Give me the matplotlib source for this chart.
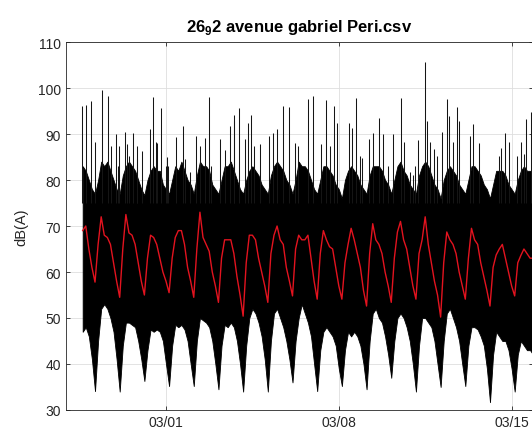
import matplotlib
matplotlib.use('Agg')
import matplotlib.pyplot as plt
import matplotlib.dates as mdates
import pandas as pd

plt.rcParams['font.family'] = ['Liberation Sans', 'DejaVu Sans']
plt.rcParams['mathtext.fontset'] = 'custom'
plt.rcParams['mathtext.rm'] = 'Liberation Sans'
plt.rcParams['mathtext.bf'] = 'Liberation Sans:bold'

START = '2015-02-25 15:00'

# 3-hourly samples (00h 03h 06h 09h 12h 15h 18h 21h), one row per day
hourly_mean = [
    69, 70, 65,                                  # 02/25 (from 15h)
    61, 57.8, 66, 72, 68, 67.5, 66, 62,          # 02/26
    58, 54.5, 65, 72.5, 68.5, 68, 66, 62,        # 02/27
    58, 55, 63, 68, 67.5, 66, 63, 60,            # 02/28
    58, 55.5, 63, 67.5, 69, 69, 66, 61,          # 03/01
    58, 54.5, 65, 73, 67.5, 66, 64.5, 60,        # 03/02
    57, 53.4, 63, 67, 67, 67, 64, 59,            # 03/03
    55, 50.4, 62, 68, 68, 67, 63, 60,            # 03/04
    57, 53.4, 64, 68, 70, 67, 66, 61,            # 03/05
    58, 54.8, 65, 68, 67, 67, 68, 63,            # 03/06
    58, 54.1, 64, 69, 67, 65.5, 65, 61,          # 03/07
    57, 54.1, 62, 66, 69.5, 67, 64, 61,          # 03/08
    56, 52.6, 64, 70.5, 67, 66, 64, 60,          # 03/09
    57, 53.4, 63, 68.7, 71, 67, 65, 61,          # 03/10
    57, 54.1, 64, 67, 72, 66, 62, 58,            # 03/11
    55, 50.2, 62, 68.7, 67, 66, 64, 60,          # 03/12
    57, 54.1, 63, 69.5, 67, 66, 62, 59,          # 03/13
    56, 52.6, 61, 63.7, 65, 66, 63, 60,          # 03/14
    57, 54.8, 62, 63.6, 65, 64, 63, 63,          # 03/15
]

# top of the dense black band
band_high = [
    83, 82, 80,
    78, 77, 80, 84, 83, 84, 82, 80,
    78, 77, 81, 83, 84, 83, 82, 80,
    78, 76.7, 80, 82, 83, 82, 82, 79,
    78, 77, 80, 83, 82, 84, 82, 80,
    79, 77, 81, 84, 83, 83, 82, 79,
    78, 77, 80, 83, 83, 84, 82, 80,
    78, 77, 80, 82, 83, 82, 81, 79,
    78, 77, 81, 83, 84, 83, 82, 80,
    79, 77, 80, 84, 83, 83, 82, 80,
    78, 77, 80, 83, 83, 82, 81, 79,
    78, 76, 80, 82, 83, 82, 81, 79,
    78, 77, 81, 83, 83, 83, 82, 80,
    79, 77, 80, 83, 84, 82, 81, 79,
    78, 77, 81, 83, 84, 83, 81, 79,
    78, 76, 80, 82, 83, 82, 81, 79,
    78, 77, 80, 83, 83, 82, 81, 79,
    78, 76, 79, 82, 82, 82, 81, 79,
    78, 77, 80, 82, 83, 82, 82, 81,
]

# bottom of the dense black band
band_low = [
    47, 48, 46,
    41, 34.1, 45, 52, 53, 52, 50, 47,
    41, 34, 44, 49, 49, 48.5, 48, 45,
    41, 36.3, 43, 47.5, 47, 47.5, 47, 45,
    40, 35.2, 44, 48.5, 48, 48.5, 47.5, 45,
    40, 35.2, 45, 50, 49.5, 49, 48, 45,
    40, 34.5, 44, 48.5, 48, 49, 48, 45,
    40, 34, 44, 50, 52, 51, 49, 46,
    41, 34, 45, 51, 52, 50, 48, 45,
    41, 36, 45, 50, 53, 51, 49, 46,
    40, 34.1, 43, 47, 48, 47, 46, 44,
    39, 35.2, 43, 47, 46, 47, 46, 44,
    40, 34.5, 45, 51, 52, 50, 49, 46,
    42, 37, 45, 50, 51, 50, 48, 45,
    40, 34, 44, 50, 50, 49, 48, 45,
    40, 35, 45, 51, 52, 50, 48, 45,
    40, 35.2, 44, 48, 48, 47.5, 46, 44,
    39, 31.7, 42, 47, 46, 45, 45, 43,
    39, 34, 42, 45, 44, 43, 43, 42,
]

# peaks above the dense band: days after 02/25 00:00 and level
spike_days = [
    0.59, 0.76, 0.96, 1.13, 1.40, 1.67, 1.77, 1.98, 2.06, 2.11, 2.34, 2.44,
    2.52, 2.68, 2.81, 2.84, 3.02, 3.35, 3.49, 3.60, 3.62, 3.79, 4.00, 4.03,
    4.09, 4.41, 4.68, 4.79, 4.99, 5.20, 5.39, 5.57, 5.73, 5.84, 6.19, 6.39,
    6.59, 6.74, 6.77, 6.94, 7.20, 7.33, 7.43, 7.55, 7.81, 8.18, 8.32, 8.48,
    8.73, 8.99, 9.24, 9.35, 9.74, 9.94, 10.28, 10.48, 10.63, 10.82, 10.92,
    11.42, 11.53, 11.69, 11.85, 11.96, 12.21, 12.39, 12.64, 12.80, 13.00,
    13.20, 13.52, 13.65, 13.88, 14.00, 14.09, 14.19, 14.50, 14.57, 14.70,
    14.86, 14.99, 15.20, 15.37, 15.47, 15.61, 15.77, 15.85, 16.31, 16.42,
    16.69, 17.49, 17.56, 17.74, 17.90, 18.21, 18.37, 18.50, 18.58, 18.78,
]
spike_db = [
    96, 96.4, 97.1, 88.3, 99.5, 98.3, 87.5, 90, 83.1, 87.5, 90.4, 87.8,
    85.3, 90.3, 84.6, 87.5, 86.4, 91, 98, 88.2, 88, 95.6, 83.1, 85,
    83.1, 89.4, 91.8, 84.6, 81.7, 89.6, 87.5, 89.2, 98, 83.1, 89, 86.5,
    91.8, 94.1, 92.8, 95.7, 89, 92.4, 94.1, 87.5, 87.8, 89.6, 90.3, 91,
    96, 95.8, 88, 87.5, 97.6, 98.3, 87.9, 97.4, 87.5, 96, 92.5,
    92.5, 91.4, 97.9, 85.3, 84.8, 89, 90.3, 93.5, 90, 83.1,
    90, 97.9, 88.3, 81.7, 81, 83.1, 88.6, 105.7, 92.9, 88.3,
    86.8, 85.3, 90.4, 97.6, 94, 88.2, 95.8, 92.9, 89.6, 92.2,
    88, 85.3, 87, 90.3, 88.3, 85.3, 88.2, 85.7, 93.3, 94.7,
]

t = pd.date_range(START, periods=len(hourly_mean), freq='3h')
spike_t = pd.Timestamp('2015-02-25') + pd.to_timedelta(spike_days, unit='D')

fig = plt.figure(figsize=(5.32, 4.35), dpi=100)
ax = fig.add_axes([0.1235, 0.0552, 0.8784, 0.8459])

ax.fill_between(t, band_low, band_high, color='k', lw=0.6, edgecolor='k', zorder=2)
ax.vlines(spike_t, 75, spike_db, color='#151515', lw=0.75, zorder=2)
ax.plot(t, hourly_mean, color='#e3131f', lw=1.0, zorder=3)

left = pd.Timestamp('2015-02-24 22:30')
ax.set_xlim(left, left + pd.Timedelta(days=18.93))
ax.set_ylim(30, 110)
ax.set_yticks(range(30, 111, 10))
ax.set_xticks(pd.to_datetime(['2015-03-01', '2015-03-08', '2015-03-15']))
ax.xaxis.set_major_formatter(mdates.DateFormatter('%m/%d'))

ax.grid(True, color='#dedede', lw=0.6, zorder=0)
ax.set_axisbelow(True)
ax.tick_params(direction='in', length=3, width=0.6, colors='#262626',
               labelsize=10, top=True, right=True)
for s in ax.spines.values():
    s.set_color('#262626')
    s.set_linewidth(0.6)

ax.set_ylabel('dB(A)', fontsize=10.5, color='#262626', labelpad=7)
ax.set_title(r'26$_{\mathbf{9}}$2 avenue gabriel Peri.csv', fontsize=12,
             fontweight='bold', pad=8)

fig.savefig('out.png', dpi=100)
